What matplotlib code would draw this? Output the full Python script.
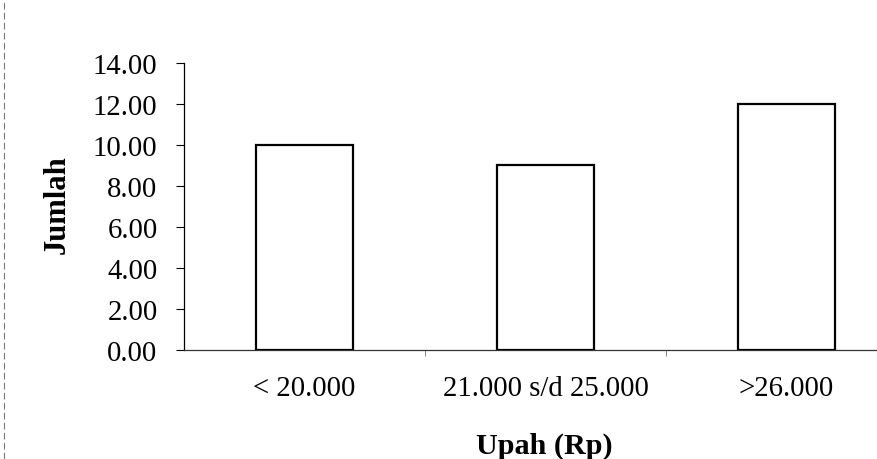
import matplotlib

matplotlib.use("Agg")
import matplotlib.pyplot as plt
from matplotlib.lines import Line2D
from matplotlib.ticker import FixedLocator, FormatStrFormatter

plt.rcParams["font.family"] = ["Liberation Serif", "DejaVu Serif"]

categories = ["< 20.000", "21.000 s/d 25.000", ">26.000"]
jumlah = [10, 9, 12]
y_ticks = [0, 2, 4, 6, 8, 10, 12, 14]

fig = plt.figure(figsize=(8.77, 4.60), dpi=100)
# axis is wider than the page on the right, as in the scanned original
ax = fig.add_axes([0.2098, 0.237, 0.8244, 0.624])

x = range(len(categories))
ax.bar(x, jumlah, width=0.40, facecolor="white", edgecolor="black",
       linewidth=1.6, zorder=3)

ax.set_xlim(-0.5, len(categories) - 0.5)
ax.set_ylim(0, 14)
ax.set_yticks(y_ticks)
ax.yaxis.set_major_formatter(FormatStrFormatter("%.2f"))
ax.set_xticks(list(x))
ax.set_xticklabels(categories)
ax.xaxis.set_minor_locator(FixedLocator([0.5, 1.5]))

for side in ("top", "right"):
    ax.spines[side].set_visible(False)
ax.spines["left"].set_linewidth(0.9)
ax.spines["bottom"].set_linewidth(0.9)
ax.spines["bottom"].set_color("#333333")

ax.tick_params(axis="y", direction="out", length=6, width=0.8,
               labelsize=20.7, pad=13)
ax.tick_params(axis="x", which="major", length=0, labelsize=20.7, pad=18)
ax.tick_params(axis="x", which="minor", direction="out", length=4,
               width=0.6, color="#777777")

ax.set_ylabel("Jumlah", fontsize=22, fontweight="bold")
ax.yaxis.set_label_coords(-0.155, 0.509)
ax.set_xlabel("Upah (Rp)", fontsize=21.7, fontweight="bold")
ax.xaxis.set_label_coords((544 - 184) / 723, -0.283)

# faint broken rule down the left edge of the page
fig.add_artist(Line2D([0.005, 0.005], [0.0, 1.0], transform=fig.transFigure,
                      color="#777777", linewidth=0.8, linestyle=(0, (6, 3))))

fig.savefig("out.png", dpi=100)
